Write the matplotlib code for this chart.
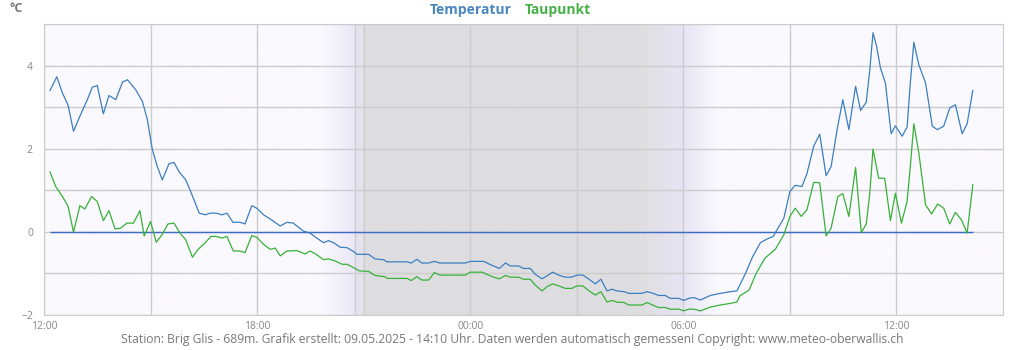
import numpy as np
import matplotlib
matplotlib.use("Agg")
import matplotlib.pyplot as plt
from matplotlib.colors import to_rgb

plt.rcParams['font.family'] = ['Open Sans', 'DejaVu Sans']

# hours after 12:00 (09.05.2025) and values in °C
temp_h = [0.17, 0.36, 0.52, 0.68, 0.83, 1.03, 1.22, 1.36, 1.50, 1.67, 1.83, 2.02, 2.21, 2.35,
          2.58, 2.77, 2.91, 3.05, 3.19, 3.33, 3.52, 3.66, 3.80, 3.99, 4.13, 4.37, 4.54, 4.68,
          4.85, 5.01, 5.15, 5.32, 5.52, 5.66, 5.85, 5.99, 6.18, 6.37, 6.65, 6.84, 7.02, 7.30,
          7.49, 7.68, 7.87, 8.01, 8.15, 8.34, 8.53, 8.71, 8.81, 9.14, 9.32, 9.56, 9.65, 10.22,
          10.34, 10.50, 10.64, 10.83, 10.99, 11.15, 11.86, 12.00, 12.38, 12.52, 12.66, 12.82,
          12.99, 13.13, 13.36, 13.50, 13.69, 13.83, 14.02, 14.16, 14.32, 14.49, 14.68, 14.86,
          15.00, 15.17, 15.33, 15.52, 15.68, 15.85, 15.99, 16.13, 16.34, 16.46, 16.83, 16.98,
          17.16, 17.30, 17.49, 17.63, 17.87, 18.01, 18.15, 18.30, 18.48, 18.76, 19.04, 19.32,
          19.51, 19.59, 19.75, 19.95, 20.17, 20.36, 20.53, 20.64, 20.83, 21.00, 21.15, 21.34,
          21.48, 21.67, 21.84, 22.02, 22.16, 22.33, 22.49, 22.66, 22.85, 22.99, 23.15, 23.25,
          23.34, 23.44, 23.55, 23.69, 23.85, 23.97, 24.16, 24.30, 24.39, 24.49, 24.63, 24.82,
          25.01, 25.15, 25.33, 25.50, 25.66, 25.85, 25.99, 26.15]
temp_v = [3.40, 3.73, 3.34, 3.04, 2.42, 2.82, 3.18, 3.48, 3.52, 2.84, 3.28, 3.18, 3.60, 3.66,
          3.42, 3.14, 2.70, 1.98, 1.57, 1.25, 1.64, 1.67, 1.45, 1.25, 0.97, 0.45, 0.41, 0.45,
          0.45, 0.41, 0.45, 0.23, 0.23, 0.19, 0.63, 0.57, 0.41, 0.31, 0.14, 0.23, 0.21, 0.02,
          -0.03, -0.15, -0.26, -0.21, -0.26, -0.37, -0.38, -0.47, -0.54, -0.54, -0.65, -0.67, -0.72, -0.72,
          -0.75, -0.66, -0.75, -0.75, -0.71, -0.75, -0.75, -0.71, -0.71, -0.77, -0.82, -0.88,
          -0.75, -0.82, -0.82, -0.88, -0.88, -1.02, -1.13, -1.06, -0.97, -1.04, -1.09, -1.09,
          -1.04, -1.04, -1.13, -1.25, -1.14, -1.42, -1.38, -1.42, -1.44, -1.48, -1.48, -1.44,
          -1.48, -1.53, -1.53, -1.60, -1.60, -1.65, -1.60, -1.58, -1.64, -1.53, -1.48, -1.44,
          -1.42, -1.28, -1.00, -0.60, -0.26, -0.17, -0.11, 0.05, 0.33, 0.97, 1.12, 1.09,
          1.40, 2.06, 2.35, 1.35, 1.57, 2.46, 3.18, 2.46, 3.50, 2.92, 3.12, 3.90,
          4.79, 4.47, 3.94, 3.58, 2.36, 2.55, 2.30, 2.52, 3.58, 4.56, 4.02, 3.58,
          2.54, 2.46, 2.54, 2.98, 3.06, 2.36, 2.60, 3.40]

dew_h = [0.17, 0.33, 0.52, 0.68, 0.83, 1.01, 1.15, 1.34, 1.50, 1.67, 1.83, 2.00, 2.16, 2.33,
         2.52, 2.70, 2.82, 3.00, 3.16, 3.33, 3.49, 3.66, 3.83, 3.99, 4.18, 4.34, 4.54, 4.70,
         4.85, 5.01, 5.15, 5.33, 5.52, 5.66, 5.85, 5.99, 6.18, 6.37, 6.51, 6.65, 6.84, 7.12,
         7.35, 7.49, 7.68, 7.87, 8.01, 8.20, 8.39, 8.53, 8.67, 8.88, 9.14, 9.32, 9.61, 9.65,
         10.22, 10.34, 10.50, 10.64, 10.83, 10.99, 11.15, 11.86, 12.00, 12.33, 12.52, 12.66,
         12.82, 12.99, 13.13, 13.36, 13.50, 13.69, 13.83, 14.02, 14.16, 14.32, 14.49, 14.68,
         14.86, 15.00, 15.17, 15.33, 15.52, 15.68, 15.85, 15.99, 16.13, 16.34, 16.46, 16.83,
         16.98, 17.16, 17.30, 17.49, 17.63, 17.87, 18.01, 18.15, 18.30, 18.48, 18.76, 19.04,
         19.32, 19.51, 19.59, 19.85, 20.05, 20.30, 20.59, 20.83, 21.00, 21.15, 21.32, 21.48,
         21.67, 21.84, 22.02, 22.16, 22.35, 22.49, 22.66, 22.85, 23.01, 23.15, 23.25, 23.34,
         23.50, 23.67, 23.83, 23.97, 24.14, 24.30, 24.39, 24.49, 24.63, 24.82, 24.99, 25.16,
         25.33, 25.50, 25.66, 25.83, 25.99, 26.15]
dew_v = [1.44, 1.09, 0.85, 0.61, -0.01, 0.63, 0.55, 0.85, 0.73, 0.27, 0.51, 0.07, 0.09, 0.21,
         0.21, 0.51, -0.10, 0.25, -0.25, -0.06, 0.19, 0.21, -0.03, -0.19, -0.61, -0.42, -0.26, -0.11,
         -0.11, -0.15, -0.11, -0.46, -0.46, -0.50, -0.09, -0.13, -0.30, -0.42, -0.39, -0.58, -0.46, -0.45,
         -0.53, -0.46, -0.55, -0.67, -0.65, -0.70, -0.78, -0.78, -0.84, -0.94, -0.95, -1.05, -1.08, -1.12,
         -1.12, -1.17, -1.08, -1.16, -1.16, -0.98, -1.04, -1.04, -0.97, -0.97, -1.04, -1.09,
         -1.13, -1.05, -1.09, -1.09, -1.14, -1.14, -1.28, -1.42, -1.32, -1.25, -1.30, -1.36,
         -1.36, -1.30, -1.30, -1.41, -1.52, -1.44, -1.69, -1.65, -1.69, -1.70, -1.76, -1.76,
         -1.70, -1.77, -1.82, -1.82, -1.86, -1.86, -1.90, -1.86, -1.86, -1.90, -1.81, -1.76,
         -1.72, -1.69, -1.54, -1.40, -1.00, -0.63, -0.42, -0.07, 0.37, 0.57, 0.37, 0.53,
         1.19, 1.18, -0.10, 0.09, 0.85, 0.92, 0.37, 1.55, -0.02, 0.19, 0.93, 1.99,
         1.29, 1.29, 0.27, 0.93, 0.21, 0.73, 1.57, 2.60, 1.90, 0.65, 0.43, 0.67,
         0.57, 0.19, 0.47, 0.29, -0.03, 1.13]

tick_hours = [0, 6, 12, 18, 24]
tick_labels = ["12:00", "18:00", "00:00", "06:00", "12:00"]

fig = plt.figure(figsize=(10.24, 3.5), dpi=100)
ax = fig.add_axes([44 / 1024, 1 - 315 / 350, 959 / 1024, 291 / 350])

# background: day / twilight / night
bg = "#faf9fe"
stops = [(0, bg), (7.77, bg), (8.76, "#ebe8f7"), (8.761, "#e6e4f0"), (8.99, "#e3e2ea"),
         (8.991, "#dedee1"), (16.79, "#dedee1"), (18.0, "#e7e5f4"), (19.04, bg), (27, bg)]
xs = np.linspace(0, 27, 2700)
sx = [s[0] for s in stops]
cols = np.array([to_rgb(s[1]) for s in stops])
img = np.stack([np.interp(xs, sx, cols[:, k]) for k in range(3)], axis=-1)[None, :, :]
ax.imshow(img, extent=[0, 27, -2, 5], aspect='auto', zorder=0, interpolation='bilinear')

ax.set_xlim(0, 27)
ax.set_ylim(-2, 5)

ax.set_xticks(tick_hours)
ax.set_xticklabels(tick_labels)
ax.set_xticks([3, 9, 15, 21], minor=True)
ax.set_yticks([-2, 0, 2, 4])
ax.set_yticks([-1, 1, 3, 5], minor=True)
ax.grid(True, which='both', color='#cccccc', linewidth=1, zorder=1)
ax.set_axisbelow(True)
ax.axvline(8.76, color='#cccccc', linewidth=1, zorder=1)
ax.tick_params(which='both', length=0, colors='#888888', labelsize=7.5)
ax.tick_params(axis='y', pad=8)
ax.tick_params(axis='x', pad=4)
for s in ax.spines.values():
    s.set_color('#cccccc')

ax.hlines(0, temp_h[0], temp_h[-1], color='#3a6cc6', linewidth=1, zorder=2)
ax.plot(temp_h, temp_v, color='#3c7fc0', linewidth=0.9, zorder=3)
ax.plot(dew_h, dew_v, color='#38b038', linewidth=0.9, zorder=3)

fig.text(9 / 1024, 1 - 9 / 350, "°C", color='#777777', fontsize=9, fontweight='bold', va='center')
fig.text(512 / 1024, 1 - 10 / 350, "Temperatur", color='#4a86c0', fontsize=10, fontweight='bold',
         ha='right', va='center')
fig.text(525 / 1024, 1 - 10 / 350, "Taupunkt", color='#45b045', fontsize=10, fontweight='bold',
         ha='left', va='center')
fig.text(512 / 1024, 1 - 340 / 350,
         "Station: Brig Glis - 689m. Grafik erstellt: 09.05.2025 - 14:10 Uhr. Daten werden automatisch "
         "gemessen! Copyright: www.meteo-oberwallis.ch",
         color='#777777', fontsize=8.7, ha='center', va='center')

fig.savefig("out.png", dpi=100)
